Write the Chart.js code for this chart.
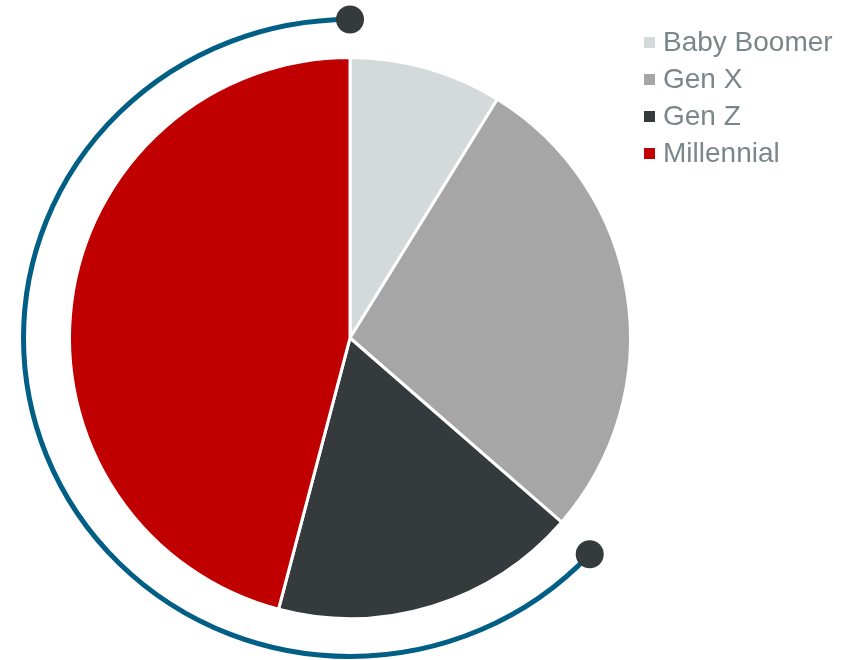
<!DOCTYPE html>
<html>
<head>
<meta charset="utf-8">
<script src="https://cdn.jsdelivr.net/npm/chart.js@4/dist/chart.umd.min.js"></script>
<style>
  html, body { margin: 0; padding: 0; background: #fff; }
  #wrap { position: relative; width: 859px; height: 660px; }
  #legend { position: absolute; left: 644px; top: 23px; font-family: "Liberation Sans", Arial, sans-serif; font-size: 28px; color: #7b868a; }
  #legend div { height: 37px; line-height: 37px; white-space: nowrap; }
  #legend span.box { display: inline-block; width: 11px; height: 11px; margin-right: 8px; vertical-align: 3px; }
</style>
</head>
<body>
<div id="wrap">
  <canvas id="genChart" width="859" height="660"></canvas>
  <div id="legend"></div>
</div>
<script>
const generations = ["Baby Boomer", "Gen X", "Gen Z", "Millennial"];
const shares = [8.8, 27.6, 17.7, 45.9];
const sliceColors = ['#d4d9d9', '#a6a6a6', '#353a3d', '#c00000'];

// blue ring round the left side, with a dot at each end
const ringPlugin = {
    id: 'ring',
    beforeDatasetsDraw(chart) {
        const meta = chart.getDatasetMeta(0);
        const first = meta.data[0];
        const genX = meta.data[1];
        if (!first) return;
        const ctx = chart.ctx;
        const rx = first.outerRadius + 46;
        const ry = first.outerRadius + 38;
        const start = -Math.PI / 2;
        const end = genX.endAngle + 0.03;
        ctx.save();
        ctx.strokeStyle = '#015f86';
        ctx.lineWidth = 5;
        ctx.beginPath();
        ctx.ellipse(first.x, first.y, rx, ry, 0, start, end, true);
        ctx.stroke();
        ctx.fillStyle = '#353a3d';
        [start, end].forEach(a => {
            ctx.beginPath();
            ctx.arc(first.x + rx * Math.cos(a), first.y + ry * Math.sin(a), 14, 0, Math.PI * 2);
            ctx.fill();
        });
        ctx.restore();
    }
};

const initChart = () => {
    const ctx = document.getElementById('genChart').getContext('2d');
    new Chart(ctx, {
        type: 'pie',
        data: {
            labels: generations,
            datasets: [{
                data: shares,
                backgroundColor: sliceColors,
                borderColor: '#ffffff',
                borderWidth: 3
            }]
        },
        options: {
            responsive: false,
            animation: false,
            layout: { padding: { left: 68, right: 227, top: 56, bottom: 40 } },
            plugins: {
                legend: { display: false },
                tooltip: { enabled: false }
            }
        },
        plugins: [ringPlugin]
    });

    const legend = document.getElementById('legend');
    generations.forEach((g, i) => {
        const row = document.createElement('div');
        row.innerHTML = '<span class="box" style="background:' + sliceColors[i] + '"></span>' + g;
        legend.appendChild(row);
    });
};

document.addEventListener('DOMContentLoaded', initChart);
</script>
</body>
</html>
